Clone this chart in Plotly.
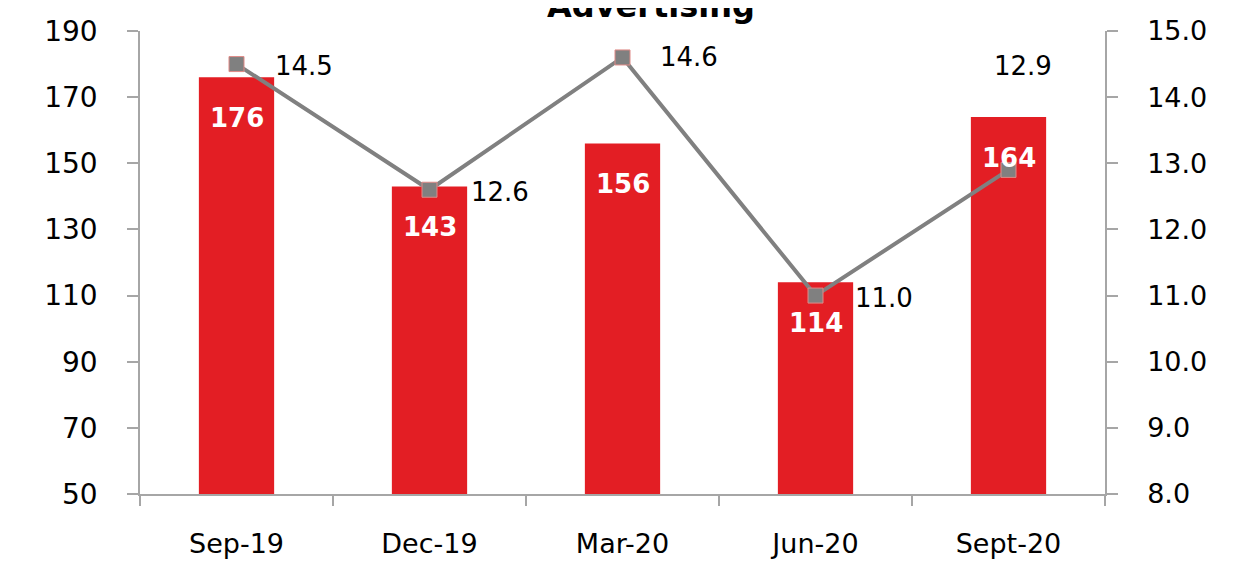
import plotly.graph_objects as go

categories = ["Sep-19", "Dec-19", "Mar-20", "Jun-20", "Sept-20"]
bar_values = [176, 143, 156, 114, 164]
line_values = [14.5, 12.6, 14.6, 11.0, 12.9]
line_labels = ["14.5", "12.6", "14.6", "11.0", "12.9"]
title_text = "Advertising"

RED = "#E31E24"
GRAY = "#808080"
AXIS = "#A6A6A6"
FONT = "DejaVu Sans"

fig = go.Figure()
fig.add_trace(go.Bar(x=categories, y=bar_values, marker=dict(color=RED, line=dict(width=0)),
                     width=0.39, yaxis="y", hoverinfo="skip"))
fig.add_trace(go.Scatter(x=categories, y=line_values, mode="lines+markers", yaxis="y2",
                         line=dict(color=GRAY, width=4),
                         marker=dict(symbol="square", size=15, color=GRAY,
                                     line=dict(color="#E08A87", width=1))))

anns = []
for c, v in zip(categories, bar_values):
    anns.append(dict(x=c, y=v, xref="x", yref="y", text=f"<b>{v}</b>", showarrow=False,
                     yshift=-41, font=dict(color="white", size=26, family=FONT)))
label_pos = [(36, -2, "left"), (39, -2, "left"), (35, 0, "left"), (37, -2, "left"), (14, 104, "center")]
for c, v, t, (dx, dy, anc) in zip(categories, line_values, line_labels, label_pos):
    anns.append(dict(x=c, y=v, xref="x", yref="y2", text=t, showarrow=False, xanchor=anc,
                     xshift=dx, yshift=dy, font=dict(color="black", size=26, family=FONT)))
anns.append(dict(x=(651 - 139) / (1105 - 139), y=1, xref="paper", yref="paper",
                 text=f"<b>{title_text}</b>", showarrow=False, yanchor="middle", yshift=25,
                 font=dict(color="black", size=32, family=FONT)))

fig.update_layout(
    width=1242, height=564,
    margin=dict(l=132, r=145, t=23, b=78, autoexpand=False),
    paper_bgcolor="white", plot_bgcolor="white",
    showlegend=False,
    font=dict(family=FONT, size=27, color="black"),
    annotations=anns,
    xaxis=dict(type="category", showgrid=False, showline=True, linecolor=AXIS, linewidth=1.5,
               ticks="outside", tickson="boundaries", ticklen=10, tickcolor=AXIS, tickwidth=1.5,
               ticklabelstandoff=25, tickfont=dict(size=27), automargin=False),
    yaxis=dict(range=[50, 190], tick0=50, dtick=20, showgrid=False, zeroline=False, showline=True,
               linecolor=AXIS, linewidth=1.5, ticks="outside", ticklen=11, tickcolor=AXIS,
               tickwidth=1.5, ticklabelstandoff=24, tickfont=dict(size=28), automargin=False),
    yaxis2=dict(range=[8, 15], dtick=1, tickformat=".1f", overlaying="y", side="right",
                showgrid=False, zeroline=False, showline=True, linecolor=AXIS, linewidth=1.5,
                ticks="outside", ticklen=11, tickcolor=AXIS, tickwidth=1.5,
                ticklabelstandoff=24, tickfont=dict(size=27), automargin=False),
)

fig.write_html("out.html")
